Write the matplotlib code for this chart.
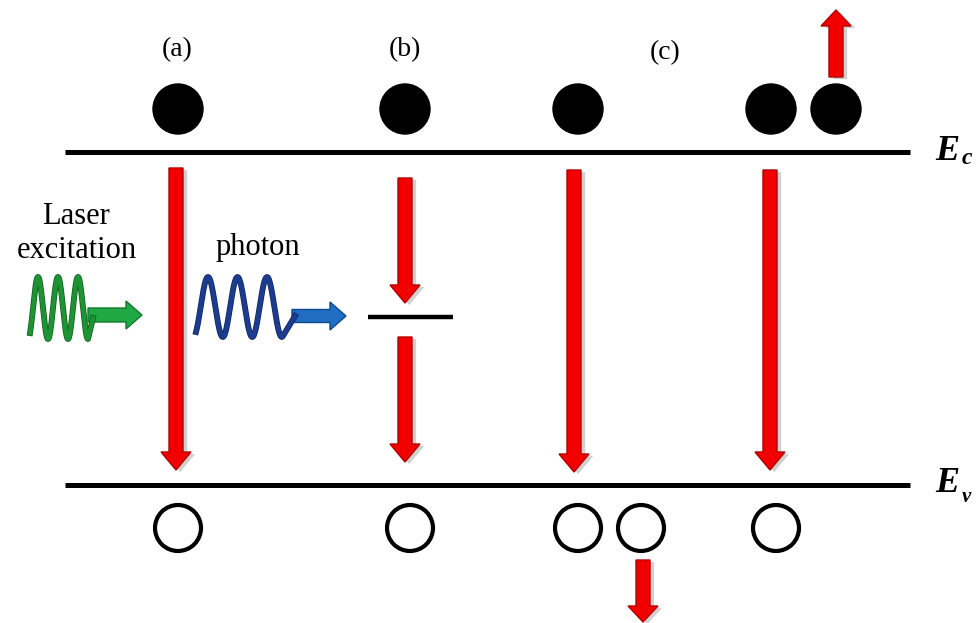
import numpy as np
import matplotlib.pyplot as plt
import matplotlib.patheffects as pe
from matplotlib.patches import Circle, FancyArrow

plt.rcParams['font.family'] = ['Liberation Serif', 'DejaVu Serif']

# band edges and trap level (pixel units, y grows downwards)
ec_y = 152
ev_y = 485
band_x = [65, 910]
trap = (368, 453, 317)

panel_labels = ['(a)', '(b)', '(c)']
panel_x = [177, 405, 665]
panel_y = [50, 50, 53]

electron_x = [178, 405, 578, 771, 836]
electron_y = 109
hole_x = [178, 410, 578, 641, 776]
hole_y = 528

# recombination arrows: x, start y, end y
transitions = [(176, 168, 470), (405, 178, 303), (405, 337, 462),
               (574, 170, 472), (770, 170, 470)]
# carriers leaving the bands
escapes = [(836, 77, 10), (643, 560, 622)]

fig = plt.figure(figsize=(9.76, 6.23), dpi=100)
ax = fig.add_axes([0, 0, 1, 1])
ax.set_xlim(0, 976)
ax.set_ylim(623, 0)
ax.axis('off')

# Ec / Ev lines
ax.plot(band_x, [ec_y, ec_y], color='black', lw=3.6, solid_capstyle='butt')
ax.plot(band_x, [ev_y, ev_y], color='black', lw=3.6, solid_capstyle='butt')
ax.plot(trap[:2], [trap[2], trap[2]], color='black', lw=3.2, solid_capstyle='butt')

ax.text(935, 151, 'E', fontsize=26, fontweight='bold', fontstyle='italic',
        va='center', ha='left')
ax.text(962, 158, 'c', fontsize=17, fontweight='bold', fontstyle='italic',
        va='center', ha='left')
ax.text(935, 484, 'E', fontsize=26, fontweight='bold', fontstyle='italic',
        va='center', ha='left')
ax.text(962, 497, 'v', fontsize=15, fontweight='bold', fontstyle='italic',
        va='center', ha='left')

for lab, x, y in zip(panel_labels, panel_x, panel_y):
    ax.text(x, y, lab, fontsize=20, ha='center', va='center')

for x in electron_x:
    ax.add_patch(Circle((x, electron_y), 25, facecolor='black', edgecolor='black'))
for x in hole_x:
    ax.add_patch(Circle((x, hole_y), 23, facecolor='white', edgecolor='black', lw=3))

shadow = [pe.SimplePatchShadow(offset=(3, -1.5), shadow_rgbFace='#7a7a7a', alpha=0.35),
          pe.Normal()]


def red_arrow(x, y0, y1, head_len=18):
    arr = FancyArrow(x, y0, 0, y1 - y0, width=14, head_width=30, head_length=head_len,
                     length_includes_head=True, facecolor='#f20000',
                     edgecolor='#b40000', lw=1)
    arr.set_path_effects(shadow)
    ax.add_patch(arr)


for x, y0, y1 in transitions:
    red_arrow(x, y0, y1)
for x, y0, y1 in escapes:
    red_arrow(x, y0, y1, head_len=16)

# laser excitation wave (green)
xg = np.linspace(30, 88, 300)
yg = 308 - 31 * np.cos(2 * np.pi * (xg - 38) / 20)
xg = np.append(xg, 93)
yg = np.append(yg, 318)
ax.plot(xg, yg, color='#1c9434', lw=3.2,
        path_effects=[pe.Stroke(linewidth=4.2, foreground='#0e5a18'), pe.Normal()])
garr = FancyArrow(88, 315, 54, 0, width=14, head_width=28, head_length=16,
                  length_includes_head=True, facecolor='#1fa843', edgecolor='#137a2c', lw=1)
ax.add_patch(garr)

# emitted photon wave (blue)
xb = np.linspace(196, 283, 300)
yb = 307 - 30 * np.cos(2 * np.pi * (xb - 208) / 29.5)
xb = np.append(xb, 295)
yb = np.append(yb, 316)
ax.plot(xb, yb, color='#1c3d8f', lw=3.2,
        path_effects=[pe.Stroke(linewidth=4.2, foreground='#0c2260'), pe.Normal()])
barr = FancyArrow(292, 316, 54, 0, width=13, head_width=28, head_length=16,
                  length_includes_head=True, facecolor='#1f6ec4', edgecolor='#0f4a90', lw=1)
ax.add_patch(barr)

ax.text(76, 217, 'Laser', fontsize=22, ha='center', va='center')
ax.text(77, 250, 'excitation', fontsize=22, ha='center', va='center')
ax.text(258, 247, 'photon', fontsize=22, ha='center', va='center')

fig.savefig('out.png', dpi=100)
